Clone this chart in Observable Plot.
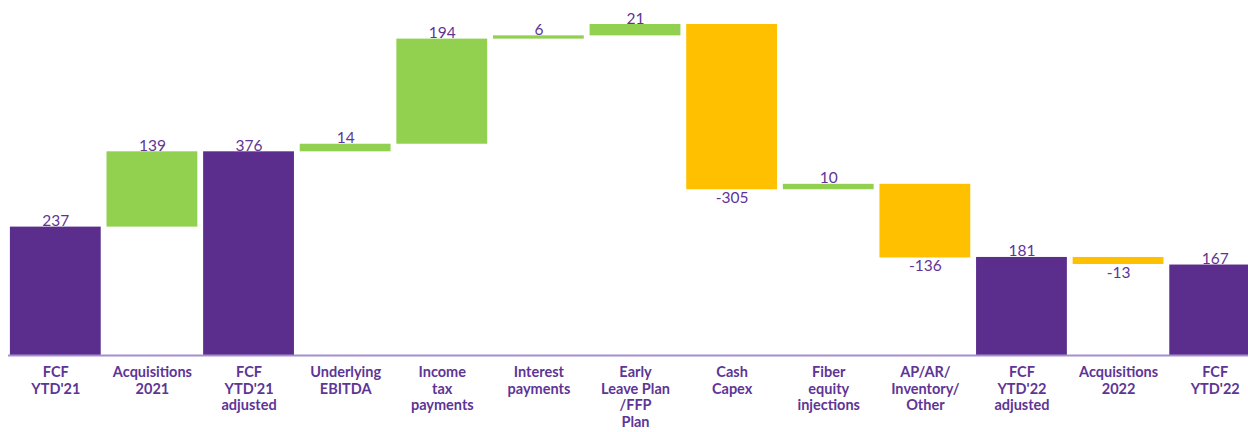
<!DOCTYPE html>
<html>
<head>
<meta charset="utf-8">
<script src="https://cdn.jsdelivr.net/npm/d3@7"></script>
<script src="https://cdn.jsdelivr.net/npm/@observablehq/plot@0.6"></script>
<style>
  html, body { margin: 0; padding: 0; background: #fff; }
  #chart svg { display: block; }
</style>
</head>
<body>
<div id="chart"></div>
<script>
const categories = [
  "FCF\nYTD'21", "Acquisitions\n2021", "FCF\nYTD'21\nadjusted", "Underlying\nEBITDA",
  "Income\ntax\npayments", "Interest\npayments", "Early\nLeave Plan\n/FFP\nPlan", "Cash\nCapex",
  "Fiber\nequity\ninjections", "AP/AR/\nInventory/\nOther", "FCF\nYTD'22\nadjusted",
  "Acquisitions\n2022", "FCF\nYTD'22"
];
const values = [237, 139, 376, 14, 194, 6, 21, -305, 10, -136, 181, -13, 167];
const kinds = ["total", "delta", "total", "delta", "delta", "delta", "delta", "delta", "delta", "delta", "total", "delta", "total"];

const colors = { total: "#5b2d8c", up: "#92d050", down: "#ffc000" };
const textColor = "#5e3596";

let running = 0;
const rows = categories.map((c, i) => {
  const v = values[i];
  let y1, y2, kind;
  if (kinds[i] === "total") {
    y1 = 0; y2 = v; running = v; kind = "total";
  } else {
    y1 = running; y2 = running + v; running = y2; kind = v >= 0 ? "up" : "down";
  }
  return { cat: c, value: v, y1, y2, kind, top: Math.max(y1, y2), bottom: Math.min(y1, y2) };
});

const chart = Plot.plot({
  width: 1248,
  height: 432,
  marginTop: 0,
  marginBottom: 77,
  marginLeft: 8,
  marginRight: 0,
  style: { fontFamily: "Lato, 'Open Sans', sans-serif", background: "#fff" },
  x: { domain: categories, range: [7, 1263], paddingInner: 0.06, paddingOuter: 0.03, round: false, label: null },
  y: { domain: [0, 611], range: [355, 24], axis: null },
  marks: [
    Plot.barY(rows, { x: "cat", y1: "y1", y2: "y2", fill: d => colors[d.kind] }),
    Plot.ruleY([0], { stroke: "#a58fd0", strokeWidth: 2 }),
    Plot.text(rows.filter(d => d.kind !== "down"), {
      x: "cat", y: "top", text: d => String(d.value),
      lineAnchor: "bottom", dy: -1, fill: textColor, fontSize: 15.5
    }),
    Plot.text(rows.filter(d => d.kind === "down"), {
      x: "cat", y: "bottom", text: d => String(d.value),
      lineAnchor: "top", dy: 2, fill: textColor, fontSize: 15.5
    }),
    Plot.axisX({
      tickSize: 0, tickPadding: 9, fontSize: 14.5, fontWeight: "bold",
      fill: textColor, lineHeight: 1.17, lineAnchor: "top", label: null
    })
  ]
});
document.getElementById("chart").appendChild(chart);
</script>
</body>
</html>
